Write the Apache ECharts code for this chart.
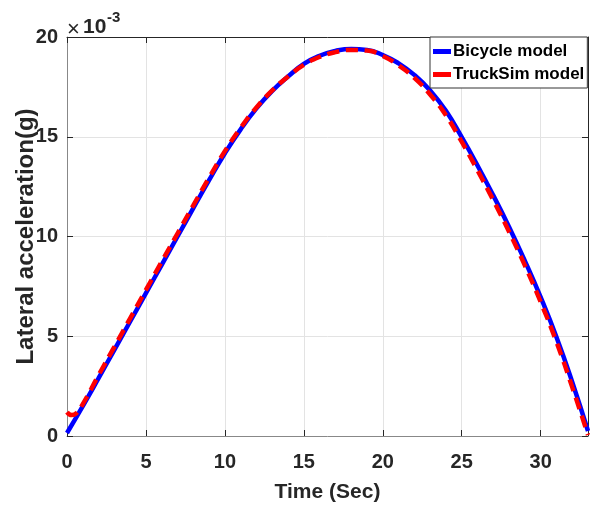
<!DOCTYPE html>
<html>
<head>
<meta charset="utf-8">
<script src="https://cdn.jsdelivr.net/npm/echarts@6/dist/echarts.min.js"></script>
<style>
html,body{margin:0;padding:0;background:#fff;}
#chart{width:595px;height:508px;}
</style>
</head>
<body>
<div id="chart"></div>
<script>
// Values in units of 10^-3 g
const bicycleTime = [0,1,2,3,4,5,6,7,8,9,10,11,12,13,14,15,16,17,18,19,20,21,22,23,24,25,26,27,28,29,30,31,32,33];
const bicycleAcc  = [0.15,1.5,2.9,4.32,5.74,7.16,8.58,10.0,11.42,12.82,14.17,15.37,16.42,17.3,18.02,18.65,19.06,19.3,19.4,19.35,19.1,18.68,18.1,17.32,16.3,14.98,13.56,12.06,10.48,8.78,6.96,4.96,2.71,0.25];
const truckTime = [0,0.3,0.6,1,2,3,4,5,6,7,8,9,10,11,12,13,14,15,16,17,18,19,20,21,22,23,24,25,26,27,28,29,30,31,32,33];
const truckAcc  = [1.2,1.05,1.15,1.6,3.05,4.47,5.9,7.32,8.74,10.15,11.56,12.95,14.28,15.45,16.47,17.32,18.02,18.6,19.0,19.24,19.35,19.32,19.05,18.58,17.95,17.12,16.08,14.75,13.32,11.82,10.24,8.55,6.72,4.72,2.45,0.05];
const xTicks = [0,5,10,15,20,25,30];
const yTicks = [0,5,10,15,20];
const seriesNames = ['Bicycle model','TruckSim model'];

const pairs = (xs, ys) => xs.map((x, i) => [x, ys[i]]);
const chart = echarts.init(document.getElementById('chart'), null, {renderer:'canvas'});
const fontFam = '"Liberation Sans", Arial, Helvetica, sans-serif';
const axisCol = '#262626';
const gridCol = '#e3e3e3';

chart.setOption({
  animation:false,
  backgroundColor:'#ffffff',
  grid:{left:67, right:7, top:37, bottom:72, containLabel:false, outerBoundsMode:'none'},
  legend:{
    orient:'vertical', left:430, top:37,
    padding:[6,3,5,3], itemGap:6,
    backgroundColor:'#fff', borderColor:'#333', borderWidth:1,
    itemWidth:18, itemHeight:5, icon:'rect',
    textStyle:{fontFamily:fontFam, fontWeight:'bold', fontSize:17, color:'#000', lineHeight:17, padding:[0,0,0,-3]},
    data:seriesNames
  },
  xAxis:[{
    type:'value', min:0, max:33, interval:5,
    name:'Time (Sec)', nameLocation:'middle', nameGap:46, nameMoveOverlap:false,
    nameTextStyle:{fontFamily:fontFam, fontWeight:'bold', fontSize:21, color:axisCol},
    axisLine:{show:true, onZero:false, lineStyle:{color:'#888', width:1}},
    axisTick:{show:true, inside:true, length:6, lineStyle:{color:axisCol}},
    axisLabel:{fontFamily:fontFam, fontWeight:'bold', fontSize:20, color:axisCol, margin:16,
      formatter:v => xTicks.includes(v) ? String(v) : ''},
    splitLine:{show:true, lineStyle:{color:gridCol, width:1}}
  },{
    type:'value', position:'top', min:0, max:33, interval:5,
    axisLine:{show:true, onZero:false, lineStyle:{color:axisCol, width:1}},
    axisTick:{show:true, inside:true, length:6, lineStyle:{color:axisCol}},
    axisLabel:{show:false}, splitLine:{show:false}
  }],
  yAxis:[{
    type:'value', min:0, max:20, interval:5,
    name:'Lateral acceleration(g)', nameLocation:'middle', nameGap:29, nameRotate:90, nameMoveOverlap:false,
    nameTextStyle:{fontFamily:fontFam, fontWeight:'bold', fontSize:24, color:axisCol},
    axisLine:{show:true, onZero:false, lineStyle:{color:'#888', width:1}},
    axisTick:{show:true, inside:true, length:6, lineStyle:{color:axisCol}},
    axisLabel:{fontFamily:fontFam, fontWeight:'bold', fontSize:20, color:axisCol, margin:9,
      formatter:v => yTicks.includes(v) ? String(v) : ''},
    splitLine:{show:true, lineStyle:{color:gridCol, width:1}}
  },{
    type:'value', position:'right', min:0, max:20, interval:5,
    axisLine:{show:true, onZero:false, lineStyle:{color:axisCol, width:1}},
    axisTick:{show:true, inside:true, length:6, lineStyle:{color:axisCol}},
    axisLabel:{show:false}, splitLine:{show:false}
  }],
  graphic:[
    {type:'text', x:67, y:30, style:{text:'×', fontFamily:fontFam, fontSize:22, fill:axisCol, verticalAlign:'middle', align:'left'}},
    {type:'text', x:83, y:27, style:{text:'10', fontFamily:fontFam, fontWeight:'bold', fontSize:21, fill:axisCol, verticalAlign:'middle', align:'left'}},
    {type:'text', x:107, y:18, style:{text:'-3', fontFamily:fontFam, fontWeight:'bold', fontSize:15, fill:axisCol, verticalAlign:'middle', align:'left'}}
  ],
  series:[{
    name:seriesNames[0], type:'line', smooth:true, symbol:'none',
    xAxisIndex:0, yAxisIndex:0,
    lineStyle:{color:'#0000ff', width:4.5},
    itemStyle:{color:'#0000ff'},
    data:pairs(bicycleTime, bicycleAcc)
  },{
    name:seriesNames[1], type:'line', smooth:true, symbol:'none',
    xAxisIndex:0, yAxisIndex:0,
    lineStyle:{color:'#ff0000', width:4.5, type:[12,7]},
    itemStyle:{color:'#ff0000'},
    data:pairs(truckTime, truckAcc)
  }]
});
</script>
</body>
</html>
